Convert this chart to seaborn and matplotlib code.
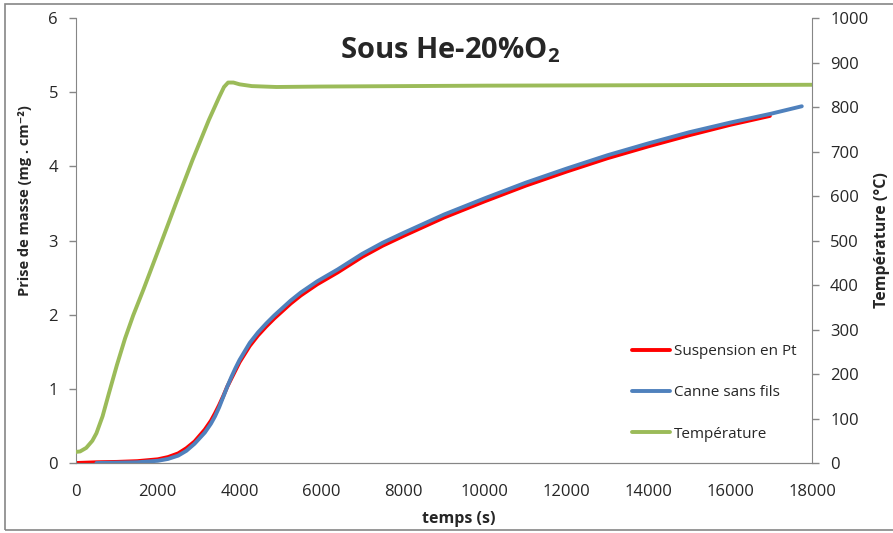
import pandas as pd
import matplotlib.pyplot as plt
import seaborn as sns

# mass gain, Pt suspension (red)
red_time = [0, 500, 1000, 1500, 2000, 2250, 2500, 2700, 2900, 3150, 3300, 3400, 3500,
            3600, 3700, 3800, 3900, 4000, 4250, 4450, 4650, 4850, 5050, 5250, 5500,
            5900, 6400, 7000, 7500, 8000, 9000, 10000, 11000, 12000, 13000, 14000,
            15000, 16000, 16970]
red_mass = [0, 0.01, 0.015, 0.025, 0.05, 0.08, 0.13, 0.2, 0.29, 0.45, 0.57, 0.67, 0.78,
            0.90, 1.03, 1.14, 1.25, 1.36, 1.58, 1.72, 1.84, 1.95, 2.05, 2.15, 2.26,
            2.41, 2.57, 2.78, 2.93, 3.06, 3.31, 3.53, 3.74, 3.93, 4.11, 4.27,
            4.42, 4.56, 4.68]

# mass gain, rod without wires (blue)
blue_time = [500, 1000, 1500, 2000, 2250, 2500, 2700, 2900, 3150, 3300, 3400, 3500,
             3600, 3700, 3800, 3900, 4000, 4250, 4450, 4650, 4850, 5050, 5250, 5500,
             5900, 6400, 7000, 7500, 8000, 9000, 10000, 11000, 12000, 13000, 14000,
             15000, 16000, 17000, 17750]
blue_mass = [0, 0.005, 0.01, 0.03, 0.055, 0.10, 0.165, 0.26, 0.41, 0.53, 0.63, 0.75,
             0.89, 1.03, 1.16, 1.28, 1.39, 1.62, 1.76, 1.88, 1.99, 2.09, 2.19, 2.30,
             2.45, 2.61, 2.82, 2.97, 3.10, 3.35, 3.57, 3.78, 3.97, 4.15, 4.31,
             4.46, 4.59, 4.71, 4.81]

# temperature (green, right axis)
temp_time = [0, 100, 250, 400, 500, 650, 800, 1000, 1200, 1400, 1650, 2050, 2450,
             2850, 3250, 3500, 3620, 3720, 3850, 4000, 4300, 4900, 6000, 8000,
             10000, 14000, 18000]
temp = [25, 26, 34, 50, 67, 105, 155, 220, 280, 332, 390, 487, 585,
        681, 771, 822, 845, 855, 855, 851, 847, 845, 846, 847,
        848, 849, 850]

labels = ["Suspension en Pt", "Canne sans fils", "Température"]
colors = ["#FF0000", "#4F81BD", "#9BBB59"]

sns.set_style("white")
plt.rcParams['font.family'] = ['Open Sans', 'DejaVu Sans']
plt.rcParams['mathtext.fontset'] = 'custom'
plt.rcParams['mathtext.rm'] = 'Open Sans'
plt.rcParams['mathtext.bf'] = 'Open Sans:bold'

red_df = pd.DataFrame({"t": red_time, "m": red_mass})
blue_df = pd.DataFrame({"t": blue_time, "m": blue_mass})
temp_df = pd.DataFrame({"t": temp_time, "T": temp})

fig = plt.figure(figsize=(8.93, 5.33), dpi=100)
ax = fig.add_axes([0.0851, 0.1313, 0.8242, 0.8349])
ax2 = ax.twinx()

sns.lineplot(data=red_df, x="t", y="m", ax=ax, color=colors[0], lw=2.8, label=labels[0], legend=False)
sns.lineplot(data=blue_df, x="t", y="m", ax=ax, color=colors[1], lw=2.8, label=labels[1], legend=False)
sns.lineplot(data=temp_df, x="t", y="T", ax=ax2, color=colors[2], lw=2.8, label=labels[2], legend=False)

ax.set_xlim(0, 18000)
ax.set_ylim(0, 6)
ax2.set_ylim(0, 1000)
ax.set_xticks(range(0, 18001, 2000))
ax.set_yticks(range(0, 7))
ax2.set_yticks(range(0, 1001, 100))

spine_col = "#868686"
for a in (ax, ax2):
    a.spines['top'].set_visible(False)
    for s in ('left', 'right', 'bottom'):
        a.spines[s].set_color(spine_col)
    a.tick_params(colors=spine_col, labelcolor="#262626", labelsize=12,
                  length=5, width=1, direction='out', pad=8)
ax.spines['right'].set_visible(False)
ax2.spines['left'].set_visible(False)
ax.tick_params(axis='x', pad=10)

ax.set_xlabel("temps (s)", fontsize=11.5, fontweight='bold', va='top')
ax.xaxis.set_label_coords(0.52, -0.108)
ax.set_ylabel("Prise de masse (mg . cm⁻²)", fontsize=10.5, fontweight='bold')
ax.yaxis.set_label_coords(-0.06, 0.59)
ax2.set_ylabel("Température (°C)", fontsize=11.5, fontweight='bold')
ax2.yaxis.set_label_coords(1.084, 0.5)

ax.text(0.508, 0.928, r"Sous He-20%O$_{\mathbf{2}}$", transform=ax.transAxes,
        ha='center', va='center', fontsize=21, fontweight='bold')

handles = ax.get_lines() + ax2.get_lines()
ax2.legend(handles, labels, loc='upper left', bbox_to_anchor=(0.755, 0.267), frameon=False,
           fontsize=11, handlelength=2.5, handletextpad=0.26, labelspacing=1.72,
           borderpad=0, borderaxespad=0)

# chart frame
fig.add_artist(plt.Rectangle((0.0056, 0.0056), 1.0, 0.987, transform=fig.transFigure,
                             fill=False, edgecolor="#868686", lw=1.2))

fig.savefig("out.png", dpi=100)
